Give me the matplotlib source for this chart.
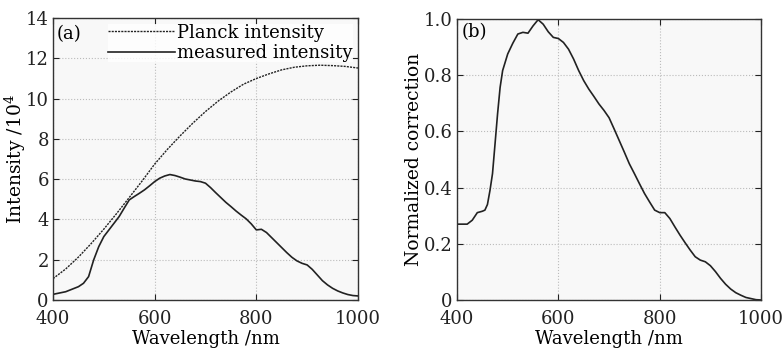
import matplotlib
matplotlib.use("Agg")
import matplotlib.pyplot as plt
import numpy as np

plt.rcParams['font.family'] = ['DejaVu Serif']
plt.rcParams['mathtext.fontset'] = 'dejavuserif'

# Panel (a): Planck intensity (x 10^4)
planck_wl = [400, 425, 450, 475, 500, 525, 550, 575, 600, 625, 650, 675, 700,
             725, 750, 775, 800, 825, 850, 875, 900, 925, 950, 975, 1000]
planck_val = [1.06, 1.54, 2.13, 2.80, 3.52, 4.29, 5.09, 5.90, 6.75, 7.48, 8.15,
              8.78, 9.36, 9.88, 10.33, 10.72, 11.00, 11.23, 11.43, 11.56, 11.63,
              11.66, 11.64, 11.60, 11.52]

# Panel (a): measured intensity (x 10^4)
meas_wl = [400, 425, 450, 460, 470, 480, 490, 500, 510, 520, 530, 540, 550, 560,
           570, 580, 590, 600, 610, 620, 630, 640, 650, 660, 670, 680, 690, 700,
           710, 720, 730, 740, 750, 760, 770, 780, 790, 800, 810, 820, 830, 840,
           850, 860, 870, 880, 890, 900, 910, 920, 930, 940, 950, 960, 970, 980,
           990, 1000]
meas_val = [0.28, 0.41, 0.66, 0.83, 1.16, 1.99, 2.65, 3.15, 3.48, 3.81, 4.14, 4.56,
            4.97, 5.14, 5.30, 5.47, 5.67, 5.88, 6.05, 6.16, 6.23, 6.18, 6.10, 6.01,
            5.96, 5.91, 5.88, 5.80, 5.58, 5.33, 5.09, 4.85, 4.64, 4.42, 4.22, 4.03,
            3.78, 3.48, 3.51, 3.35, 3.10, 2.85, 2.60, 2.35, 2.12, 1.94, 1.82, 1.74,
            1.52, 1.24, 0.96, 0.75, 0.58, 0.45, 0.35, 0.27, 0.22, 0.20]

# Panel (b): normalized correction
corr_wl = [400, 410, 420, 430, 440, 450, 455, 460, 465, 470, 475, 480, 485, 490,
           500, 510, 520, 530, 540, 550, 560, 570, 580, 590, 600, 610, 620, 630,
           640, 650, 660, 670, 680, 690, 700, 710, 720, 730, 740, 750, 760, 770,
           780, 790, 800, 810, 820, 830, 840, 850, 860, 870, 880, 890, 900, 910,
           920, 930, 940, 950, 960, 970, 980, 990, 1000]
corr_val = [0.27, 0.27, 0.27, 0.284, 0.311, 0.316, 0.32, 0.34, 0.39, 0.45, 0.556,
            0.663, 0.757, 0.817, 0.876, 0.914, 0.947, 0.953, 0.95, 0.976, 0.998,
            0.982, 0.955, 0.935, 0.931, 0.917, 0.893, 0.858, 0.817, 0.781, 0.751,
            0.725, 0.698, 0.675, 0.649, 0.609, 0.568, 0.527, 0.485, 0.45, 0.414,
            0.379, 0.349, 0.32, 0.311, 0.311, 0.29, 0.26, 0.231, 0.204, 0.178,
            0.154, 0.142, 0.136, 0.122, 0.101, 0.077, 0.056, 0.039, 0.026, 0.017,
            0.009, 0.005, 0.001, 0.0]

x_ticks = [400, 600, 800, 1000]
a_yticks = [0, 2, 4, 6, 8, 10, 12, 14]
b_yticks = [0, 0.2, 0.4, 0.6, 0.8, 1.0]
b_yticklabels = ['0', '0.2', '0.4', '0.6', '0.8', '1.0']

fs = 13
fig = plt.figure(figsize=(7.83, 3.48), dpi=100)
axa = fig.add_axes([0.0677, 0.138, 0.3895, 0.810])
axb = fig.add_axes([0.5837, 0.138, 0.3883, 0.807])

def style(ax):
    ax.set_facecolor('#f8f8f8')
    ax.grid(True, color='#bbbbbb', linestyle=':', linewidth=0.8)
    ax.tick_params(direction='in', top=True, right=True, length=4, width=0.8,
                   labelsize=fs, colors='#222222')
    ax.tick_params(axis='x', pad=7)
    ax.tick_params(axis='y', pad=3)
    for s in ax.spines.values():
        s.set_linewidth(1.0)
        s.set_color('#333333')
    ax.set_xlim(400, 1000)
    ax.set_xticks(x_ticks)
    ax.set_xlabel('Wavelength /nm', fontsize=fs, labelpad=2)

style(axa)
axa.set_ylim(0, 14)
axa.set_yticks(a_yticks)
lp, = axa.plot(planck_wl, planck_val, color='#222222', linestyle=(0, (1.5, 0.8)),
               linewidth=1.0, label='Planck intensity')
lm, = axa.plot(meas_wl, meas_val, color='#222222', linewidth=1.2,
               label='measured intensity')
axa.set_ylabel('Intensity /10$^4$', fontsize=13.5)
axa.yaxis.set_label_coords(-0.082, 0.5)
leg = axa.legend(handles=[lp, lm], loc='upper right', frameon=True, fontsize=fs,
                 handlelength=3.7, handletextpad=0.1, labelspacing=0.15,
                 borderpad=0.0, borderaxespad=0.3, fancybox=False)
leg.get_frame().set_facecolor('white')
leg.get_frame().set_edgecolor('none')
axa.text(0.012, 0.975, '(a)', transform=axa.transAxes, fontsize=fs, va='top', ha='left')

style(axb)
axb.set_ylim(0, 1.0)
axb.set_yticks(b_yticks)
axb.set_yticklabels(b_yticklabels)
axb.plot(corr_wl, corr_val, color='#222222', linewidth=1.2)
axb.set_ylabel('Normalized correction', fontsize=13.5)
axb.yaxis.set_label_coords(-0.112, 0.5)
axb.text(0.015, 0.985, '(b)', transform=axb.transAxes, fontsize=fs, va='top', ha='left')

fig.savefig('out.png', dpi=100)
